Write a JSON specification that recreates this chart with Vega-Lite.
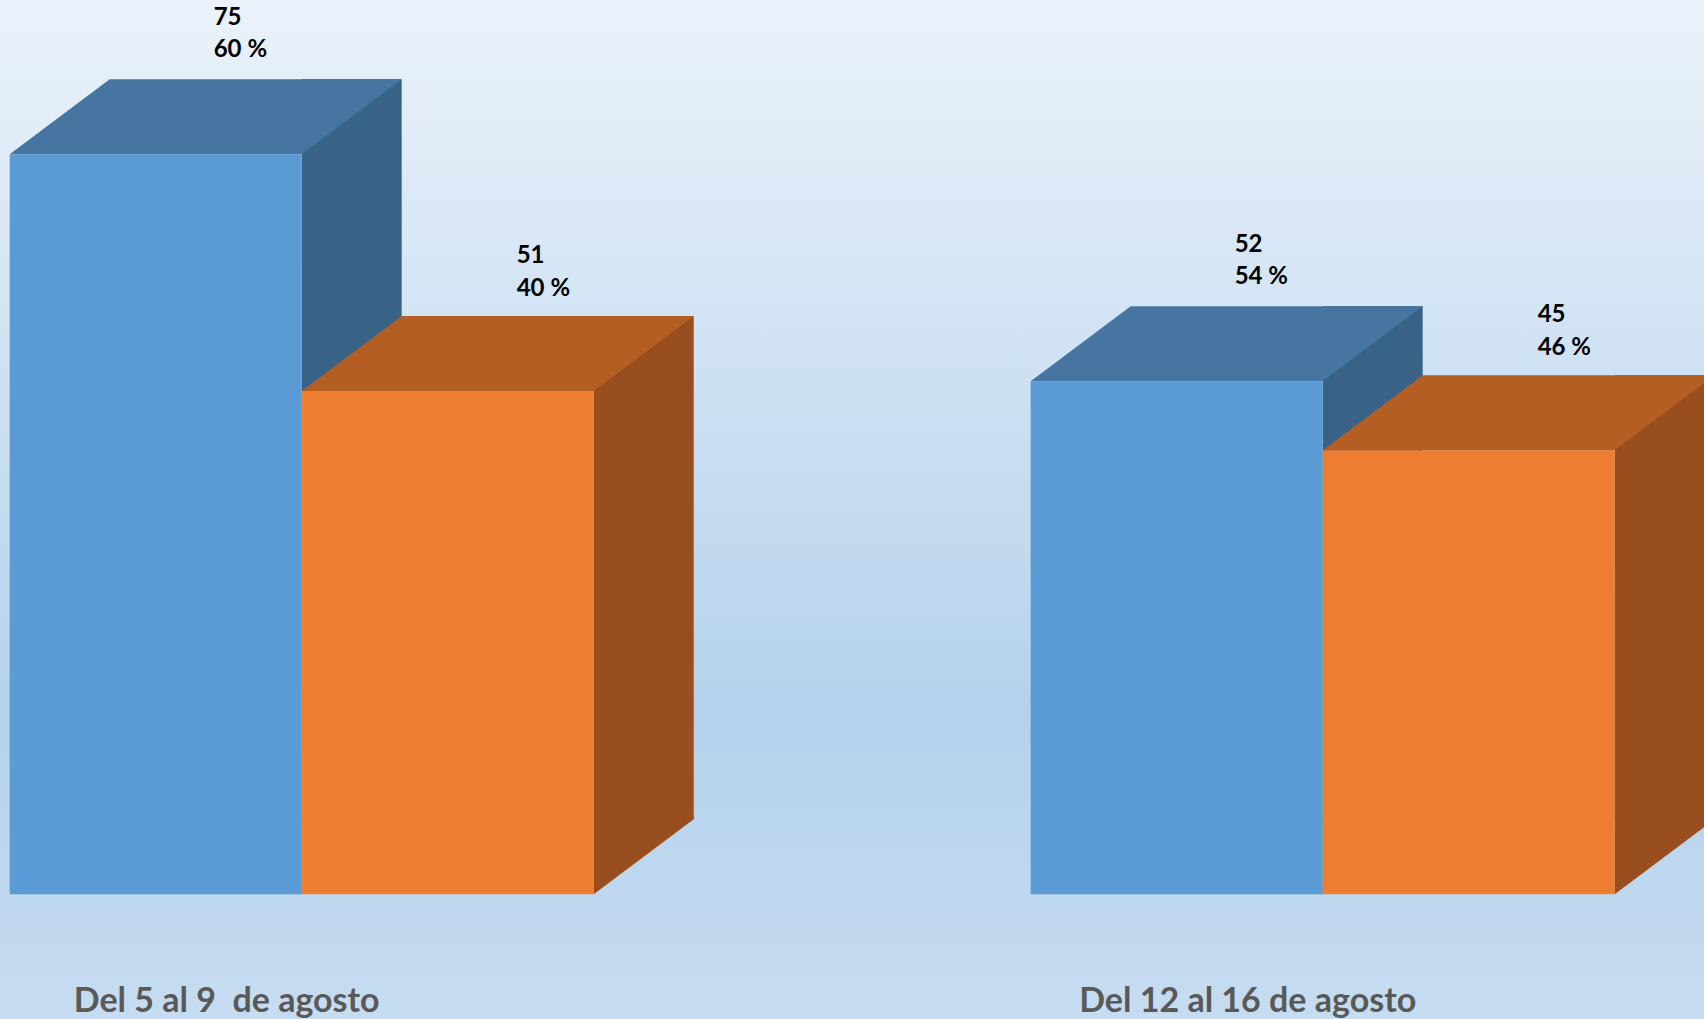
{
  "$schema": "https://vega.github.io/schema/vega-lite/v6.json",
  "width": 1704,
  "height": 1019,
  "autosize": {"type": "none"},
  "padding": 0,
  "background": "#ffffff",
  "config": {
    "view": {
      "stroke": null,
      "fill": {
        "gradient": "linear", "x1": 0, "y1": 0, "x2": 0, "y2": 1,
        "stops": [
          {"offset": 0, "color": "#EBF2FA"},
          {"offset": 0.7, "color": "#B4D2EC"},
          {"offset": 1, "color": "#C6DCF1"}
        ]
      }
    }
  },
  "data": {
    "values": [
      {"periodo": "Del 5 al 9\u00a0 de agosto", "serie": "Serie 1", "valor": 75, "pct": "60 %"},
      {"periodo": "Del 5 al 9\u00a0 de agosto", "serie": "Serie 2", "valor": 51, "pct": "40 %"},
      {"periodo": "Del 12 al 16 de agosto", "serie": "Serie 1", "valor": 52, "pct": "54 %"},
      {"periodo": "Del 12 al 16 de agosto", "serie": "Serie 2", "valor": 45, "pct": "46 %"}
    ]
  },
  "encoding": {
    "x": {
      "field": "periodo", "type": "nominal", "sort": null,
      "scale": {"type": "band", "paddingInner": 0.428, "paddingOuter": 0.0485, "align": 0.098},
      "axis": {
        "title": null, "domain": false, "ticks": false, "tickSize": 0, "grid": false,
        "labelAngle": 0, "labelBaseline": "alphabetic", "labelPadding": -8, "labelOffset": -75,
        "labelFont": "Lato", "labelFontWeight": "bold", "labelFontSize": 34, "labelColor": "#595959",
        "labelLimit": 0
      }
    },
    "y": {
      "field": "valor", "type": "quantitative",
      "scale": {"domain": [-12.638, 90.638], "nice": false, "zero": false},
      "axis": null
    }
  },
  "layer": [
    {
      "transform": [{"filter": "datum.serie === 'Serie 1'"}],
      "mark": {"type": "bar", "width": 100, "xOffset": 50, "yOffset": -75, "y2Offset": -75, "color": "#386386"},
      "encoding": {"y2": {"datum": 0}}
    },
    {
      "transform": [{"filter": "datum.serie === 'Serie 1'"}],
      "mark": {"type": "point", "shape": "M0,0L1,-0.75L1,-0.79L0,-0.79Z", "size": 40000, "filled": true, "color": "#386386", "opacity": 1, "strokeWidth": 0},
      "encoding": {"y": {"datum": 0}}
    },
    {
      "transform": [{"filter": "datum.serie === 'Serie 1'"}],
      "mark": {"type": "point", "shape": "M-2.92,0L0,0L1,-0.75L-1.92,-0.75Z", "size": 40000, "filled": true, "color": "#4575A0", "opacity": 1, "strokeWidth": 0}
    },
    {
      "transform": [{"filter": "datum.serie === 'Serie 1'"}],
      "mark": {"type": "bar", "width": 292, "xOffset": -146, "color": "#5B9BD5"},
      "encoding": {"y2": {"datum": 0}}
    },
    {
      "transform": [{"filter": "datum.serie === 'Serie 2'"}],
      "mark": {"type": "bar", "width": 100, "xOffset": 342, "yOffset": -75, "y2Offset": -75, "color": "#984E1E"},
      "encoding": {"y2": {"datum": 0}}
    },
    {
      "transform": [{"filter": "datum.serie === 'Serie 2'"}],
      "mark": {"type": "point", "shape": "M2.92,0L3.92,-0.75L3.92,-0.79L2.92,-0.79Z", "size": 40000, "filled": true, "color": "#984E1E", "opacity": 1, "strokeWidth": 0},
      "encoding": {"y": {"datum": 0}}
    },
    {
      "transform": [{"filter": "datum.serie === 'Serie 2'"}],
      "mark": {"type": "point", "shape": "M0,0L2.92,0L3.92,-0.75L1,-0.75Z", "size": 40000, "filled": true, "color": "#B45E23", "opacity": 1, "strokeWidth": 0}
    },
    {
      "transform": [{"filter": "datum.serie === 'Serie 2'"}],
      "mark": {"type": "bar", "width": 292, "xOffset": 146, "color": "#ED7D31"},
      "encoding": {"y2": {"datum": 0}}
    },
    {
      "transform": [{"filter": "datum.serie === 'Serie 1'"}],
      "mark": {"type": "text", "align": "left", "baseline": "alphabetic", "dx": -88, "dy": -129.5, "font": "Lato", "fontWeight": "bold", "fontSize": 24, "color": "#000000"},
      "encoding": {"text": {"field": "valor", "type": "quantitative"}}
    },
    {
      "transform": [{"filter": "datum.serie === 'Serie 1'"}],
      "mark": {"type": "text", "align": "left", "baseline": "alphabetic", "dx": -88, "dy": -97, "font": "Lato", "fontWeight": "bold", "fontSize": 24, "color": "#000000"},
      "encoding": {"text": {"field": "pct", "type": "nominal"}}
    },
    {
      "transform": [{"filter": "datum.serie === 'Serie 2'"}],
      "mark": {"type": "text", "align": "left", "baseline": "alphabetic", "dx": 215, "dy": -128, "font": "Lato", "fontWeight": "bold", "fontSize": 24, "color": "#000000"},
      "encoding": {"text": {"field": "valor", "type": "quantitative"}}
    },
    {
      "transform": [{"filter": "datum.serie === 'Serie 2'"}],
      "mark": {"type": "text", "align": "left", "baseline": "alphabetic", "dx": 215, "dy": -95.5, "font": "Lato", "fontWeight": "bold", "fontSize": 24, "color": "#000000"},
      "encoding": {"text": {"field": "pct", "type": "nominal"}}
    }
  ]
}
